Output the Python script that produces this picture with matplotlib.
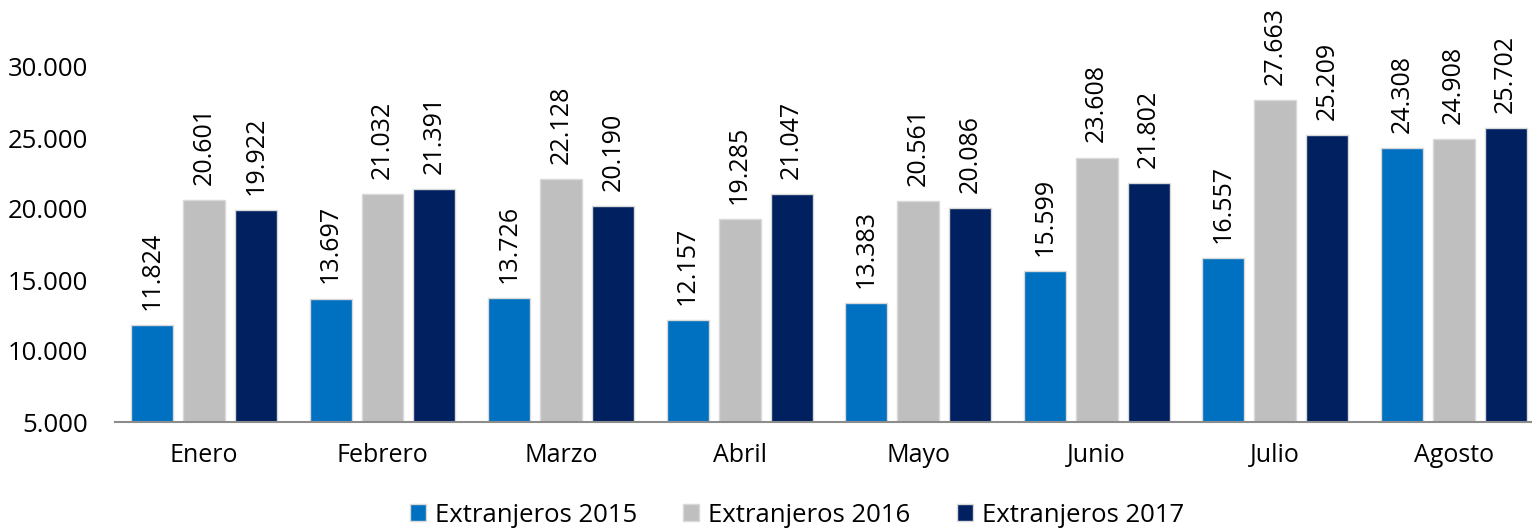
import matplotlib.pyplot as plt
import numpy as np

meses = ['Enero', 'Febrero', 'Marzo', 'Abril', 'Mayo', 'Junio', 'Julio', 'Agosto']
ext_2015 = [11824, 13697, 13726, 12157, 13383, 15599, 16557, 24308]
ext_2016 = [20601, 21032, 22128, 19285, 20561, 23608, 27663, 24908]
ext_2017 = [19922, 21391, 20190, 21047, 20086, 21802, 25209, 25702]
series = ['Extranjeros 2015', 'Extranjeros 2016', 'Extranjeros 2017']
colores = ['#0070C0', '#BFBFBF', '#002060']

plt.rcParams['font.family'] = ['Open Sans', 'DejaVu Sans']

def miles(v):
    return f'{v:,.0f}'.replace(',', '.')

fig = plt.figure(figsize=(15.32, 5.32), dpi=100)
ax = fig.add_axes([114.7 / 1532, 1 - 422 / 532, (1543 - 114.7) / 1532, (422 - 67) / 532])

x = np.arange(len(meses))
bw = 0.235
paso = 0.291
for i, (vals, col, nom) in enumerate(zip([ext_2015, ext_2016, ext_2017], colores, series)):
    pos = x + (i - 1) * paso
    ax.bar(pos, vals, bw, color=col, edgecolor='#D9D9D9', linewidth=1, label=nom, zorder=2)
    for p, v in zip(pos, vals):
        ax.annotate(miles(v), (p, v), xytext=(0, 11), textcoords='offset points',
                    rotation=90, ha='center', va='bottom', fontsize=18, annotation_clip=False)

ax.set_ylim(5000, 30000)
ax.set_xlim(-0.5, len(meses) - 0.5)
ax.set_yticks(np.arange(5000, 30001, 5000))
ax.set_yticklabels([miles(v) for v in np.arange(5000, 30001, 5000)], fontsize=18.5)
ax.set_xticks(x)
ax.set_xticklabels(meses, fontsize=18)
ax.tick_params(axis='both', length=0)
ax.tick_params(axis='x', pad=15)
ax.tick_params(axis='y', pad=19)
for s in ['top', 'right', 'left']:
    ax.spines[s].set_visible(False)
ax.spines['bottom'].set_color('#8C8C8C')
ax.spines['bottom'].set_linewidth(1.5)

fig.text(0.37, 1 + 6 / 532, 'Llegada de viajeros extranjeros, enero - agosto', fontsize=18,
         fontweight='bold', ha='center', va='baseline')

fig.legend(loc='center', bbox_to_anchor=(797 / 1532, 1 - 515 / 532), ncol=3, frameon=False,
           fontsize=18.5, handlelength=0.62, handleheight=0.62, columnspacing=1.8,
           handletextpad=0.35, borderpad=0)

fig.savefig('out.png', dpi=100)
